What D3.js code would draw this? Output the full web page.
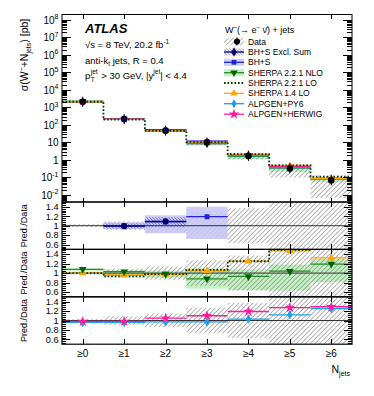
<!DOCTYPE html>
<html><head><meta charset="utf-8">
<script src="https://cdn.jsdelivr.net/npm/d3@7"></script>
<style>body{margin:0;background:#fff} text{font-family:"Liberation Sans",Arial,sans-serif;fill:#000}</style>
</head><body><svg id="c" width="374" height="396"></svg>
<script>
// ---------------- data ----------------
const categories = ["≥0","≥1","≥2","≥3","≥4","≥5","≥6"];
const dataXsec = [2100, 215, 47, 9.8, 1.7, 0.33, 0.068];
const dataRelUnc = [0.03, 0.09, 0.14, 0.27, 0.37, 0.7, 0.9];
const bhsRatio = [null, 1.00, 1.08, 1.19, null, null, null];
const bhsLo = [null, 0.93, 0.84, 0.72, null, null, null];
const bhsHi = [null, 1.07, 1.22, 1.40, null, null, null];
const bhsExclRatio = [null, 0.99, 1.09, null, null, null, null];
const bhsExclLo = [null, 0.94, 0.97, null, null, null, null];
const bhsExclHi = [null, 1.05, 1.18, null, null, null, null];
const sherpaNloRatio = [1.08, 1.03, 0.98, 0.88, 0.93, 1.04, 1.19];
const sherpaNloLo = [1.05, 0.94, 0.90, 0.67, 0.64, 0.63, 0.81];
const sherpaNloHi = [1.10, 1.06, 1.05, 1.10, 1.08, 1.18, 1.30];
const sherpaLoRatio = [1.00, 0.93, 0.98, 1.07, 1.25, 1.49, 1.62];
const sherpa14Ratio = [1.00, 0.96, 0.97, 1.05, 1.25, 1.47, 1.32];
const sherpa14Unc = [0.01, 0.01, 0.01, 0.02, 0.03, 0.04, 0.1];
const alpgenPy6Ratio = [0.96, 0.96, 0.97, 0.97, 1.03, 1.12, 1.25];
const alpgenHerwigRatio = [0.98, 0.98, 1.05, 1.10, 1.19, 1.27, 1.29];
const mainTicks = [-2,-1,0,1,2,3,4,5,6,7,8];
const ratioTicks = [0.6,0.8,1.0,1.2,1.4];
const ratioTickLabels = ["0.6","0.8","1","1.2","1.4"];

// ---------------- layout ----------------
const svg = d3.select("#c");
const xL = 62, xR = 352, mainTop = 14.5, mainBot = 202, pH = 47.4;
const pTop = [mainBot, mainBot + pH, mainBot + 2*pH];
const x = d3.scaleLinear().domain([-0.5, 6.5]).range([xL, xR]);
const bw = x(1) - x(0);
const yM = d3.scaleLog().domain([Math.pow(10,-2.4), Math.pow(10,8.3)]).range([mainBot, mainTop]);
const yR = pTop.map(t => d3.scaleLinear().domain([0.5,1.5]).range([t + pH, t]));

const defs = svg.append("defs");
function hatch(id, angle, sp, color, w){
  const p = defs.append("pattern").attr("id",id).attr("patternUnits","userSpaceOnUse")
    .attr("width",sp).attr("height",sp).attr("patternTransform",`rotate(${angle})`);
  p.append("line").attr("x1",0).attr("y1",0).attr("x2",0).attr("y2",sp).attr("stroke",color).attr("stroke-width",w);
}
hatch("hData",45,3.3,"#4a4a4a",0.8);
hatch("hBlue",-45,2.2,"#2b2bc8",0.8);
function clip(id,y0,y1){defs.append("clipPath").attr("id",id).append("rect").attr("x",xL).attr("y",y0).attr("width",xR-xL).attr("height",y1-y0);}
clip("cMain",mainTop,mainBot);
pTop.forEach((t,i)=>clip("cR"+i,t,t+pH));

const C = {bhsBand:"#c4c4f6", bhs:"#2222dd", navy:"#000070", nloBand:"#c4f2c4", nloLine:"#2a8a2a", nloMk:"#006400",
  lo:"#003a00", s14:"#ffa500", py6:"#1e9ef0", hw:"#ff1aa0"};

const idx = d3.range(categories.length);

function hseg(g, vals, yf, color, width, dash){
  g.selectAll(null).data(idx.filter(i=>vals[i]!=null)).join("line")
    .attr("x1",i=>x(i-0.5)).attr("x2",i=>x(i+0.5))
    .attr("y1",i=>yf(vals[i])).attr("y2",i=>yf(vals[i]))
    .attr("stroke",color).attr("stroke-width",width).attr("stroke-dasharray",dash||null);
}
function bands(g, lo, hi, yf, fill, opacity){
  g.selectAll(null).data(idx.filter(i=>lo[i]!=null)).join("rect")
    .attr("x",i=>x(i-0.5)).attr("width",bw)
    .attr("y",i=>yf(hi[i])).attr("height",i=>yf(lo[i])-yf(hi[i]))
    .attr("fill",fill).attr("opacity",opacity==null?1:opacity);
}
function marks(g, vals, yf, type, size, color, rot){
  g.selectAll(null).data(idx.filter(i=>vals[i]!=null)).join("path")
    .attr("d", d3.symbol().type(type).size(size))
    .attr("transform", i=>`translate(${x(i)},${yf(vals[i])})${rot?` rotate(${rot})`:""}`)
    .attr("fill",color);
}
function stepPath(vals, yf){
  let p = "";
  idx.forEach(i=>{
    if(i===0) p += `M${x(-0.5)},${yf(vals[0])}`;
    else p += `L${x(i-0.5)},${yf(vals[i])}`;
    p += `L${x(i+0.5)},${yf(vals[i])}`;
  });
  return p;
}

// ---------------- main panel ----------------
const gM = svg.append("g").attr("clip-path","url(#cMain)");
const times = arr => arr.map((r,i)=> r==null?null: r*dataXsec[i]);
const dLo = dataXsec.map((d,i)=>d*Math.max(1-dataRelUnc[i],0.08));
const dHi = dataXsec.map((d,i)=>d*(1+dataRelUnc[i]));
bands(gM, times(sherpaNloLo), times(sherpaNloHi), yM, C.nloBand);
bands(gM, times(bhsLo), times(bhsHi), yM, C.bhsBand, 0.85);
bands(gM, dLo, dHi, yM, "url(#hData)");
bands(gM, times(bhsExclLo), times(bhsExclHi), yM, "url(#hBlue)");
hseg(gM, times(sherpaNloRatio), yM, C.nloLine, 1.3);
hseg(gM, times(bhsRatio), yM, C.bhs, 1.3);
hseg(gM, times(bhsExclRatio), yM, C.navy, 1.3);
hseg(gM, times(alpgenPy6Ratio), yM, C.py6, 1.3);
hseg(gM, times(alpgenHerwigRatio), yM, C.hw, 1.3);
hseg(gM, times(sherpa14Ratio), yM, C.s14, 1.3);
gM.append("path").attr("d",stepPath(times(sherpaLoRatio), yM)).attr("fill","none")
  .attr("stroke",C.lo).attr("stroke-width",1.8).attr("stroke-dasharray","1.6,1.9");
marks(gM, times(alpgenPy6Ratio), yM, d3.symbolDiamond, 22, C.py6);
marks(gM, times(sherpa14Ratio), yM, d3.symbolTriangle, 22, C.s14);
marks(gM, times(sherpaNloRatio), yM, d3.symbolTriangle, 22, C.nloMk, 180);
marks(gM, times(bhsRatio), yM, d3.symbolSquare, 22, C.bhs);
marks(gM, times(alpgenHerwigRatio), yM, d3.symbolStar, 22, C.hw);
gM.selectAll(null).data(idx).join("line").attr("x1",i=>x(i)).attr("x2",i=>x(i))
  .attr("y1",i=>yM(dataXsec[i])-5).attr("y2",i=>yM(dataXsec[i])+5).attr("stroke","#000").attr("stroke-width",1);
marks(gM, dataXsec, yM, d3.symbolCircle, 34, "#000");
marks(gM, times(bhsExclRatio), yM, d3.symbolDiamond, 16, C.navy);

// ---------------- ratio panels ----------------
const rLo = dataRelUnc.map(u=>1-u), rHi = dataRelUnc.map(u=>1+u);
// panel 0
{
  const y = yR[0], g = svg.append("g").attr("clip-path","url(#cR0)");
  bands(g, rLo, rHi, y, "url(#hData)");
  bands(g, bhsLo, bhsHi, y, C.bhsBand, 0.85);
  bands(g, bhsExclLo, bhsExclHi, y, "url(#hBlue)");
  g.append("line").attr("x1",xL).attr("x2",xR).attr("y1",y(1)).attr("y2",y(1)).attr("stroke","#333").attr("stroke-width",1);
  hseg(g, bhsRatio, y, C.bhs, 1.3);
  hseg(g, bhsExclRatio, y, C.navy, 1.3);
  marks(g, bhsRatio, y, d3.symbolSquare, 24, C.bhs);
  marks(g, bhsExclRatio, y, d3.symbolCircle, 30, C.navy);
}
// panel 1
{
  const y = yR[1], g = svg.append("g").attr("clip-path","url(#cR1)");
  bands(g, sherpaNloLo, sherpaNloHi, y, C.nloBand);
  bands(g, rLo, rHi, y, "url(#hData)");
  g.append("line").attr("x1",xL).attr("x2",xR).attr("y1",y(1)).attr("y2",y(1)).attr("stroke","#333").attr("stroke-width",1);
  hseg(g, sherpaNloRatio, y, C.nloLine, 1.3);
  hseg(g, sherpa14Ratio, y, C.s14, 1.3);
  g.append("path").attr("d",stepPath(sherpaLoRatio, y)).attr("fill","none")
    .attr("stroke",C.lo).attr("stroke-width",1.8).attr("stroke-dasharray","1.6,1.9");
  g.selectAll(null).data(idx).join("line").attr("x1",i=>x(i)).attr("x2",i=>x(i))
    .attr("y1",i=>y(sherpa14Ratio[i]+sherpa14Unc[i])).attr("y2",i=>y(sherpa14Ratio[i]-sherpa14Unc[i]))
    .attr("stroke",C.s14).attr("stroke-width",1.2);
  marks(g, sherpa14Ratio, y, d3.symbolTriangle, 26, C.s14);
  marks(g, sherpaNloRatio, y, d3.symbolTriangle, 26, C.nloMk, 180);
}
// panel 2
{
  const y = yR[2], g = svg.append("g").attr("clip-path","url(#cR2)");
  bands(g, rLo, rHi, y, "url(#hData)");
  g.append("line").attr("x1",xL).attr("x2",xR).attr("y1",y(1)).attr("y2",y(1)).attr("stroke","#333").attr("stroke-width",1);
  hseg(g, alpgenPy6Ratio, y, C.py6, 1.3);
  hseg(g, alpgenHerwigRatio, y, C.hw, 1.3);
  marks(g, alpgenPy6Ratio, y, d3.symbolDiamond, 26, C.py6);
  marks(g, alpgenHerwigRatio, y, d3.symbolStar, 34, C.hw);
}

// ---------------- axes ----------------
function strip(g){ g.select(".domain").remove(); g.selectAll(".tick line").attr("stroke","#000").attr("shape-rendering","crispEdges"); return g; }
const majorsM = mainTicks.map(k=>Math.pow(10,k));
const minorsM = [];
for(let k=-3;k<=8;k++) for(let m=2;m<=9;m++){ const v=m*Math.pow(10,k); if(v>yM.domain()[0] && v<yM.domain()[1]) minorsM.push(v); }
strip(svg.append("g").attr("transform",`translate(${xL},0)`).call(d3.axisLeft(yM).tickValues(majorsM).tickSize(-9).tickFormat("")));
strip(svg.append("g").attr("transform",`translate(${xL},0)`).call(d3.axisLeft(yM).tickValues(minorsM).tickSize(-5).tickFormat("")));
strip(svg.append("g").attr("transform",`translate(${xR},0)`).call(d3.axisRight(yM).tickValues(majorsM).tickSize(-9).tickFormat("")));
strip(svg.append("g").attr("transform",`translate(${xR},0)`).call(d3.axisRight(yM).tickValues(minorsM).tickSize(-5).tickFormat("")));
strip(svg.append("g").attr("transform",`translate(0,${mainTop})`).call(d3.axisTop(x).tickValues(idx).tickSize(-4).tickFormat("")));
strip(svg.append("g").attr("transform",`translate(0,${mainBot})`).call(d3.axisBottom(x).tickValues(idx).tickSize(-4).tickFormat("")));
// main labels
mainTicks.forEach(k=>{
  const t = svg.append("text").attr("x",58.5).attr("y",yM(Math.pow(10,k))+4).attr("text-anchor","end").attr("font-size",10);
  if(k===0) t.text("1");
  else if(k===1) t.text("10");
  else { t.append("tspan").text("10"); t.append("tspan").attr("dy",-4.5).attr("font-size",7).text(String(k)); }
});
const minorsR = d3.range(13,38).map(i=>+(i*0.04).toFixed(2)).filter(v=>!ratioTicks.some(m=>Math.abs(m-v)<1e-6));
yR.forEach((y,p)=>{
  strip(svg.append("g").attr("transform",`translate(${xL},0)`).call(d3.axisLeft(y).tickValues(ratioTicks).tickSize(-8).tickFormat("")));
  strip(svg.append("g").attr("transform",`translate(${xL},0)`).call(d3.axisLeft(y).tickValues(minorsR).tickSize(-4).tickFormat("")));
  strip(svg.append("g").attr("transform",`translate(${xR},0)`).call(d3.axisRight(y).tickValues(ratioTicks).tickSize(-8).tickFormat("")));
  strip(svg.append("g").attr("transform",`translate(${xR},0)`).call(d3.axisRight(y).tickValues(minorsR).tickSize(-4).tickFormat("")));
  strip(svg.append("g").attr("transform",`translate(0,${pTop[p]})`).call(d3.axisTop(x).tickValues(idx).tickSize(-5).tickFormat("")));
  strip(svg.append("g").attr("transform",`translate(0,${pTop[p]+pH})`).call(d3.axisBottom(x).tickValues(idx).tickSize(-5).tickFormat("")));
  ratioTicks.forEach((v,j)=>svg.append("text").attr("x",58.5).attr("y",y(v)+3.3).attr("text-anchor","end").attr("font-size",9.2).text(ratioTickLabels[j]));
  svg.append("text").attr("transform",`translate(27,${pTop[p]+pH/2}) rotate(-90)`).attr("text-anchor","middle").attr("font-size",9).text("Pred./Data");
});
// frames
svg.append("rect").attr("x",xL).attr("y",mainTop).attr("width",xR-xL).attr("height",mainBot-mainTop).attr("fill","none").attr("stroke","#000").attr("stroke-width",1);
pTop.forEach(t=>svg.append("rect").attr("x",xL).attr("y",t).attr("width",xR-xL).attr("height",pH).attr("fill","none").attr("stroke","#000").attr("stroke-width",1.2));
// x labels
categories.forEach((c,i)=>svg.append("text").attr("x",x(i)).attr("y",357).attr("text-anchor","middle").attr("font-size",10).text(c));
{
  const t = svg.append("text").attr("x",350).attr("y",373).attr("text-anchor","end").attr("font-size",10.5);
  t.append("tspan").text("N"); t.append("tspan").attr("dy",2.5).attr("font-size",7).text("jets");
}
// y title
{
  const t = svg.append("text").attr("transform","translate(28,55) rotate(-90)").attr("text-anchor","middle").attr("font-size",10.5);
  t.append("tspan").text("σ(W");
  t.append("tspan").attr("dy",-4).attr("font-size",7).text("−");
  t.append("tspan").attr("dy",4).text("+N");
  t.append("tspan").attr("dy",2.5).attr("font-size",7).text("jets");
  t.append("tspan").attr("dy",-2.5).text(") [pb]");
}
// labels
svg.append("text").attr("x",85).attr("y",32.5).attr("font-size",13).attr("font-weight","bold").attr("font-style","italic").text("ATLAS");
{
  const t = svg.append("text").attr("x",85).attr("y",47.5).attr("font-size",9.5);
  t.append("tspan").text("√s = 8 TeV, 20.2 fb");
  t.append("tspan").attr("dy",-4).attr("font-size",6.5).text("-1");
}
{
  const t = svg.append("text").attr("x",85).attr("y",63.5).attr("font-size",9.5);
  t.append("tspan").text("anti-k");
  t.append("tspan").attr("dy",2.5).attr("font-size",6.5).text("t");
  t.append("tspan").attr("dy",-2.5).text(" jets, R = 0.4");
}
{
  const y0 = 78.5;
  const p = svg.append("text").attr("x",85).attr("y",y0).attr("font-size",9.5).text("p");
  const pw = p.node().getComputedTextLength();
  svg.append("text").attr("x",85+pw+0.5).attr("y",y0-4.5).attr("font-size",6.5).text("jet");
  svg.append("text").attr("x",85+pw+0.5).attr("y",y0+3).attr("font-size",6.5).text("T");
  const t = svg.append("text").attr("x",85+pw+11).attr("y",y0).attr("font-size",9.5);
  t.append("tspan").text("> 30 GeV, |y");
  t.append("tspan").attr("dy",-4.5).attr("font-size",6.5).text("jet");
  t.append("tspan").attr("dy",4.5).text("| < 4.4");
}
// legend
{
  const lx = 224, lw = 20, tx = 248;
  const t = svg.append("text").attr("x",225).attr("y",32.5).attr("font-size",9);
  t.append("tspan").text("W");
  t.append("tspan").attr("dy",-3.5).attr("font-size",6).text("−");
  t.append("tspan").attr("dy",3.5).text("(→ e");
  t.append("tspan").attr("dy",-3.5).attr("font-size",6).text("−");
  t.append("tspan").attr("dy",3.5).text(" ν\u0304) + jets");
  const ys = [41.5, 52, 62.3, 72.7, 83, 93.3, 103.7, 114.2];
  const names = ["Data","BH+S Excl. Sum","BH+S","SHERPA 2.2.1 NLO","SHERPA 2.2.1 LO","SHERPA 1.4 LO","ALPGEN+PY6","ALPGEN+HERWIG"];
  const g = svg.append("g");
  const box = (y,fill,op)=>g.append("rect").attr("x",lx).attr("y",y-3.5).attr("width",lw).attr("height",7).attr("fill",fill).attr("opacity",op||1);
  const ln = (y,c,w,dash)=>g.append("line").attr("x1",lx).attr("x2",lx+lw).attr("y1",y).attr("y2",y).attr("stroke",c).attr("stroke-width",w).attr("stroke-dasharray",dash||null);
  const mk = (xx,y,type,size,c,rot)=>g.append("path").attr("d",d3.symbol().type(type).size(size)()).attr("transform",`translate(${xx},${y})${rot?` rotate(${rot})`:""}`).attr("fill",c);
  box(ys[0],"url(#hData)"); g.append("line").attr("x1",237).attr("x2",237).attr("y1",ys[0]-4).attr("y2",ys[0]+4).attr("stroke","#000"); mk(237,ys[0],d3.symbolCircle,30,"#000");
  box(ys[1],"url(#hBlue)"); ln(ys[1],C.navy,1.3); mk(234,ys[1],d3.symbolDiamond,26,C.navy);
  box(ys[2],C.bhsBand,0.85); ln(ys[2],C.bhs,1.3); mk(234,ys[2],d3.symbolSquare,22,C.bhs);
  box(ys[3],C.nloBand); ln(ys[3],C.nloLine,1.3); mk(234,ys[3],d3.symbolTriangle,24,C.nloMk,180);
  ln(ys[4],C.lo,1.8,"1.6,1.9");
  ln(ys[5],C.s14,1.3); mk(234,ys[5],d3.symbolTriangle,24,C.s14);
  ln(ys[6],C.py6,1.3); mk(234,ys[6],d3.symbolDiamond,24,C.py6);
  ln(ys[7],C.hw,1.3); mk(234,ys[7],d3.symbolStar,34,C.hw);
  names.forEach((n,i)=>svg.append("text").attr("x",tx).attr("y",ys[i]+3).attr("font-size",8.5).text(n));
}
</script></body></html>
